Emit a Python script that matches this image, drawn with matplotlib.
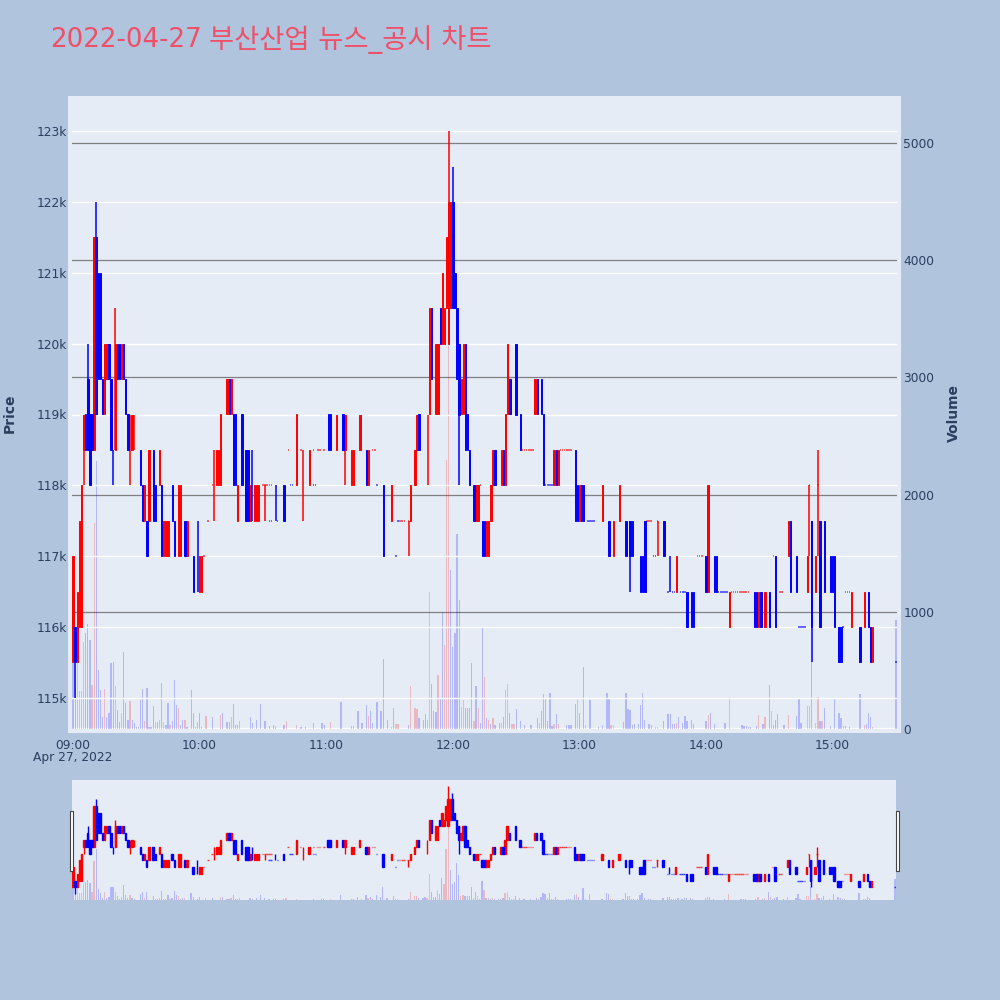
import matplotlib
matplotlib.use('Agg')
import matplotlib.pyplot as plt
from matplotlib.patches import Rectangle

BG = '#b0c4de'
PLOT_BG = '#e5ecf6'
TEXT = '#2a3f5f'
UP = '#ff0000'
DOWN = '#0000ff'
FONT = ['DejaVu Sans', 'Noto Sans CJK KR']

title_date = '2022-04-27'
title_name = '부산산업 뉴스_공시 차트'
date_label = 'Apr 27, 2022'
time_ticks = [0, 60, 120, 180, 240, 300, 360]
time_labels = ['09:00', '10:00', '11:00', '12:00', '13:00', '14:00', '15:00']
price_ticks = [115, 116, 117, 118, 119, 120, 121, 122, 123]
price_labels = ['115k', '116k', '117k', '118k', '119k', '120k', '121k', '122k', '123k']
volume_ticks = [0, 1000, 2000, 3000, 4000, 5000]

# minutes after 09:00, prices in thousands
up_minutes = [0, 2, 3, 4, 5, 10, 15, 16, 20, 23, 28, 34, 36, 41, 43, 44, 45, 50, 51, 54,
              60, 61, 68, 69, 70, 73, 75, 78, 84, 86, 87, 88, 106, 112, 125, 129, 132, 133,
              136, 140, 151, 160, 162, 163, 169, 172, 173, 175, 176, 177, 178, 179, 184, 185,
              191, 192, 197, 196, 198, 199, 203, 205, 206, 219, 228, 230, 240, 251, 256, 259,
              286, 301, 311, 325, 328, 339, 348, 352, 369, 375, 379]
up_open = [115.5, 115.5, 116, 116, 118.5, 118.5, 119, 119.5, 118.5, 119.5, 118.5, 117.5, 117.5, 118, 117, 117, 117, 117, 117, 117,
           116.5, 116.5, 118, 118, 118, 119, 119, 117.5, 117.5, 117.5, 117.5, 117.5, 118, 118, 118.5, 118.5, 118, 118,
           118.5, 118, 117.5, 117.5, 118, 118.5, 119, 119, 119, 120, 120, 120.5, 120, 120.5, 119, 119,
           117.5, 117.5, 117, 117, 117.5, 118, 118, 118, 119, 119, 118, 118, 117.5, 117.5, 117, 117.5,
           116.5, 116.5, 116, 116, 116, 117, 116.5, 116.5, 116, 116, 115.5]
up_close = [117, 116.5, 117.5, 118, 119, 121.5, 120, 120, 120, 120, 119, 118, 118.5, 118.5, 117.5, 117.5, 117.5, 118, 118, 117.5,
            117, 117, 118.5, 118.5, 119, 119.5, 119.5, 118, 118, 118, 118, 118, 119, 118.5, 119, 119, 118.5, 118.5,
            119, 118.5, 118, 118, 118.5, 119, 120.5, 120, 120, 121, 120.5, 121.5, 122, 122, 119.5, 120,
            118, 118, 117.5, 117.5, 118, 118.5, 118.5, 119, 120, 119.5, 118.5, 118.5, 118, 118, 117.5, 118,
            117, 118, 116.5, 116.5, 116.5, 117.5, 117, 117, 116.5, 116.5, 116]
up_wick_minutes = [5, 20, 27, 29, 67, 91, 109, 129, 159, 168, 178, 277, 349, 353]
up_wick_high = [119, 120.5, 119, 119, 118.5, 118, 118.5, 119, 117.5, 119, 123, 117.5, 118, 118.5]
up_wick_low = [118, 118.5, 118, 118.5, 117.5, 117.5, 117.5, 118, 117, 118, 120, 117, 117, 117]

down_minutes = [1, 6, 7, 8, 9, 11, 12, 13, 14, 17, 18, 21, 22, 24, 25, 26, 32, 33, 35, 38, 39, 42, 47, 48, 53, 57,
                74, 76, 77, 80, 82, 83, 100, 121, 122, 128, 139, 147, 164, 170, 174, 180, 181, 182, 183, 186, 187, 188,
                190, 194, 195, 200, 204, 207, 210, 212, 220, 222, 223, 229, 238, 239, 241, 242, 254, 262, 264, 265,
                269, 270, 271, 280, 291, 293, 294, 300, 304, 305, 323, 324, 326, 330, 333, 340, 343, 350, 354, 356,
                359, 360, 361, 363, 364, 373, 377, 378]
down_open = [116, 119, 119.5, 119, 119, 121.5, 121, 121, 119.5, 120, 119.5, 120, 120, 120, 119.5, 119, 118.5, 118, 117.5, 118.5, 118, 118, 118, 117.5, 117.5, 117,
             119.5, 119, 119, 119, 118.5, 118.5, 118, 119, 119, 119, 118.5, 118, 119, 120.5, 120.5, 122, 121, 120.5, 120, 120, 119, 118.5,
             118, 117.5, 117.5, 118.5, 118.5, 119.5, 120, 119, 119.5, 119.5, 119, 118.5, 118.5, 118, 118, 118, 117.5, 117.5, 117.5, 117.5,
             117, 117, 117.5, 117.5, 116.5, 116.5, 116.5, 117, 117, 117, 116.5, 116.5, 116.5, 116.5, 117, 117.5, 117, 117.5, 117.5, 117.5,
             117, 117, 117, 116, 116, 116, 116.5, 116]
down_close = [115.5, 118.5, 118.5, 118, 118.5, 119, 119.5, 119.5, 119, 119.5, 118.5, 119.5, 119.5, 119.5, 119, 118.5, 118, 117.5, 117, 117.5, 117.5, 117, 117.5, 117, 117, 116.5,
              119, 118, 118, 118, 117.5, 117.5, 117.5, 118.5, 118.5, 118.5, 118, 117, 118.5, 119.5, 120, 120.5, 120.5, 119.5, 119, 118.5, 118.5, 118,
              117.5, 117, 117, 118, 118, 119, 119, 118.5, 119, 119, 118, 118, 117.5, 117.5, 117.5, 117.5, 117, 117, 117, 117,
              116.5, 116.5, 116.5, 117, 116, 116, 116, 116.5, 116.5, 116.5, 116, 116, 116, 116, 116, 116.5, 116.5, 116, 116, 116.5,
              116.5, 116.5, 116, 115.5, 115.5, 115.5, 116, 115.5]
down_wick_minutes = [1, 7, 11, 19, 59, 85, 96, 180, 183, 264, 283, 350]
down_wick_high = [116, 120, 122, 118.5, 117.5, 118.5, 118, 122.5, 120, 117.5, 117, 117.5]
down_wick_low = [115, 118.5, 119, 118, 116.5, 117.5, 117.5, 120.5, 118, 116.5, 116.5, 115.5]

# flat candles show up as little dashes
flat_up_minutes = [62, 64, 66, 90, 92, 93, 94, 91, 102, 108, 114, 116, 117, 119, 142, 143, 155, 156, 157, 193, 213, 214, 215, 216, 217, 218,
                   231, 232, 233, 234, 235, 236, 159, 272, 273, 274, 277, 296, 297, 298, 312, 313, 314, 315, 316, 317, 318, 319, 320,
                   332, 335, 336, 349, 353, 366, 367, 368]
flat_up_price = [117, 117.5, 118, 118, 118, 118, 118, 118, 118.5, 118.5, 118.5, 118.5, 118.5, 118.5, 118.5, 118.5, 117.5, 117.5, 117.5, 118, 118.5, 118.5, 118.5, 118.5, 118.5, 118.5,
                 118.5, 118.5, 118.5, 118.5, 118.5, 118.5, 117.5, 117.5, 117.5, 117.5, 117.5, 117, 117, 117, 116.5, 116.5, 116.5, 116.5, 116.5, 116.5, 116.5, 116.5, 116.5,
                 117, 116.5, 116.5, 118, 118, 116.5, 116.5, 116.5]
flat_down_minutes = [93, 94, 97, 103, 104, 114, 115, 144, 153, 154, 224, 225, 226, 227, 244, 245, 246, 247, 275, 276, 282, 284, 285, 288, 289, 290,
                     306, 307, 308, 309, 310, 344, 345, 346, 347, 365, 390]
flat_down_price = [117.5, 117.5, 117.5, 118, 118, 118, 118, 118, 117, 117.5, 118, 118, 118, 118, 117.5, 117.5, 117.5, 117.5, 117, 117, 116.5, 116.5, 116.5, 116.5, 116.5, 116.5,
                   116.5, 116.5, 116.5, 116.5, 116.5, 116, 116, 116, 116, 116, 115.5]

vol_up_minutes = [2, 3, 4, 5, 9, 10, 15, 20, 23, 27, 34, 39, 41, 43, 46, 50, 53, 63, 70, 75, 79, 101, 106, 122,
                  140, 151, 153, 154, 160, 162, 163, 168, 169, 173, 176, 177, 178, 184, 185, 190, 192, 195, 197, 199, 203,
                  205, 206, 208, 209, 221, 228, 230, 239, 243, 255, 256, 276, 277, 286, 301, 311, 325, 328, 331, 339,
                  348, 349, 352, 353, 355, 365, 375, 379]
vol_up_values = [560, 320, 320, 745, 375, 1755, 340, 365, 135, 240, 70, 60, 75, 60, 35, 175, 75, 110, 120, 100, 70, 70, 30, 60,
                 110, 20, 40, 40, 370, 180, 170, 80, 1165, 460, 715, 2295, 3580, 190, 245, 70, 175, 440, 80, 90, 50,
                 330, 380, 40, 40, 50, 40, 40, 265, 35, 30, 30, 20, 20, 50, 120, 270, 120, 105, 150, 120,
                 195, 195, 55, 275, 70, 25, 30, 20]
vol_down_minutes = [0, 1, 6, 7, 8, 11, 12, 13, 14, 16, 17, 18, 19, 21, 22, 24, 25, 26, 28, 29, 30, 31, 32, 33, 35, 36, 37, 38, 40, 42,
                    44, 45, 47, 48, 49, 51, 52, 54, 56, 57, 58, 59, 60, 61, 66, 71, 73, 74, 76, 77, 78, 84, 85, 87, 89, 91, 93, 95, 96,
                    100, 108, 110, 114, 118, 119, 127, 132, 133, 135, 137, 139, 141, 142, 144, 146, 147, 149, 152, 159, 164, 166, 167,
                    170, 171, 172, 174, 175, 179, 180, 181, 182, 183, 186, 187, 188, 189, 191, 193, 194, 196, 198, 200, 202, 204, 207,
                    210, 212, 214, 217, 220, 222, 223, 224, 225, 226, 227, 229, 234, 235, 236, 238, 240, 242, 245, 249, 251, 253, 254,
                    261, 262, 263, 264, 265, 266, 268, 269, 270, 271, 273, 274, 280, 282, 283, 284, 285, 287, 289, 290, 291, 293, 294,
                    300, 302, 304, 309, 317, 318, 319, 320, 321, 324, 327, 330, 332, 333, 334, 337, 343, 344, 345, 350, 354, 356, 359,
                    361, 363, 364, 366, 368, 373, 376, 377, 378, 390]
vol_down_values = [560, 560, 815, 900, 760, 2290, 505, 330, 105, 105, 135, 560, 575, 160, 60, 655, 220, 75, 75, 50, 20, 20, 250, 340, 350, 15, 15, 200, 60, 390,
                   35, 225, 70, 420, 205, 35, 75, 20, 330, 135, 15, 60, 135, 15, 100, 140, 60, 60, 210, 35, 35, 105, 55, 80, 215, 70, 25, 35, 25,
                   35, 20, 20, 50, 50, 35, 230, 25, 25, 155, 55, 205, 150, 50, 230, 155, 595, 80, 175, 35, 90, 75, 125,
                   380, 155, 145, 265, 1000, 1360, 700, 815, 1660, 1100, 180, 180, 175, 565, 370, 55, 865, 90, 40, 35, 50, 105, 135,
                   170, 70, 35, 30, 90, 155, 295, 260, 70, 310, 25, 130, 35, 35, 35, 210, 135, 530, 250, 20, 35, 305, 260,
                   60, 310, 170, 160, 30, 40, 40, 205, 305, 75, 40, 35, 70, 130, 130, 40, 40, 100, 50, 110, 70, 80, 40,
                   70, 140, 40, 50, 30, 25, 25, 20, 20, 25, 40, 375, 35, 80, 130, 35, 110, 260, 55, 590, 70, 180, 25,
                   260, 140, 90, 25, 20, 300, 40, 140, 105, 930]

fig = plt.figure(figsize=(10, 10), dpi=100, facecolor=BG)


def px_axes(left, top, right, bottom):
    return fig.add_axes([left / 1000, 1 - bottom / 1000, (right - left) / 1000, (bottom - top) / 1000])


def draw_flat(ax, minutes, prices, color, lw, zorder):
    ax.hlines(prices, [m - 0.35 for m in minutes], [m + 0.35 for m in minutes],
              color=color, lw=lw, alpha=0.75, zorder=zorder)


def draw_candles(ax, wick_lw, body_lw):
    ax.vlines(up_wick_minutes, up_wick_low, up_wick_high, color=UP, lw=wick_lw, zorder=3)
    ax.bar(up_minutes, [c - o for o, c in zip(up_open, up_close)], bottom=up_open, width=0.65,
           color=UP, edgecolor=UP, lw=body_lw, zorder=3)
    draw_flat(ax, flat_up_minutes, flat_up_price, UP, wick_lw, 3)
    ax.vlines(down_wick_minutes, down_wick_low, down_wick_high, color=DOWN, lw=wick_lw, zorder=4)
    ax.bar(down_minutes, [c - o for o, c in zip(down_open, down_close)], bottom=down_open, width=0.65,
           color=DOWN, edgecolor=DOWN, lw=body_lw, zorder=4)
    draw_flat(ax, flat_down_minutes, flat_down_price, DOWN, wick_lw, 4)


def draw_volume(ax):
    ax.bar(vol_up_minutes, vol_up_values, width=0.6, color=UP, alpha=0.22, lw=0, zorder=3)
    ax.bar(vol_down_minutes, vol_down_values, width=0.6, color=DOWN, alpha=0.22, lw=0, zorder=3)


# padded plot background, the axes lines stop 4px short of it
fig.add_artist(Rectangle((68 / 1000, 1 - 733 / 1000), 833 / 1000, 637 / 1000, transform=fig.transFigure,
                         facecolor=PLOT_BG, edgecolor='none', zorder=-5))

# ── Main chart ────────────────────────────────────────────────
ax = px_axes(72, 100, 897, 729)
ax2 = ax.twinx()
ax.set_zorder(ax2.get_zorder() + 1)
ax.patch.set_visible(False)
ax2.patch.set_visible(False)

draw_volume(ax2)
draw_candles(ax, 1.1, 0.7)

ax.set_xlim(-0.5, 390.5)
ax.set_ylim(114.56, 123.44)
ax2.set_ylim(0, 5367)

ax.set_xticks(time_ticks)
ax.set_xticklabels(time_labels)
ax.set_yticks(price_ticks)
ax.set_yticklabels(price_labels)
ax2.set_yticks(volume_ticks)

ax.grid(axis='y', color='white', lw=1.0, zorder=0)
ax.set_axisbelow(True)
ax2.grid(axis='y', color='#808080', lw=0.9, zorder=0)
ax2.set_axisbelow(True)
ax2.axhline(0, color='white', lw=1.6, zorder=1)

for a in (ax, ax2):
    for s in a.spines.values():
        s.set_visible(False)
    a.tick_params(length=0, labelsize=8.8, labelcolor=TEXT)
ax.tick_params(axis='y', pad=3.5)
ax.tick_params(axis='x', pad=7)
ax2.tick_params(axis='y', pad=4.5)

fig.text(73 / 1000, 1 - 758 / 1000, date_label, ha='center', va='center', fontsize=8.8, color=TEXT)
fig.text(9.5 / 1000, 1 - 413 / 1000, 'Price', rotation=90, ha='center', va='center',
         fontsize=10, fontweight='bold', color=TEXT)
fig.text(953.5 / 1000, 1 - 413 / 1000, 'Volume', rotation=90, ha='center', va='center',
         fontsize=10, fontweight='bold', color=TEXT)
# the hangul in the reference is a bit wider than Noto, so it gets its own slightly larger text
fig.text(50 / 1000, 1 - 40 / 1000, title_date, ha='left', va='center', fontsize=18.8, color='#ef5068', family=FONT)
fig.text(209 / 1000, 1 - 40 / 1000, title_name, ha='left', va='center', fontsize=19.7, color='#ef5068', family=FONT)

# ── Range slider ──────────────────────────────────────────────
sl = px_axes(72, 780, 896, 900)
sl2 = sl.twinx()
sl.set_facecolor(PLOT_BG)
sl.set_zorder(sl2.get_zorder() - 1)
sl2.patch.set_visible(False)
sl3 = sl.twinx()
sl3.patch.set_visible(False)

draw_candles(sl2, 1.0, 1.0)
draw_volume(sl3)

sl.set_xlim(-0.5, 390.5)
sl2.set_ylim(114.56, 123.44)
sl3.set_ylim(0, 5367)
for a in (sl, sl2, sl3):
    a.set_xticks([])
    a.set_yticks([])
    for s in a.spines.values():
        s.set_visible(False)

for left in (69.5, 895.5):
    fig.add_artist(Rectangle((left / 1000, 1 - 870.5 / 1000), 3.6 / 1000, 60 / 1000, transform=fig.transFigure,
                             facecolor='white', edgecolor='#444444', lw=0.8, zorder=10))

fig.savefig('out.png', dpi=100, facecolor=fig.get_facecolor())
plt.close()
